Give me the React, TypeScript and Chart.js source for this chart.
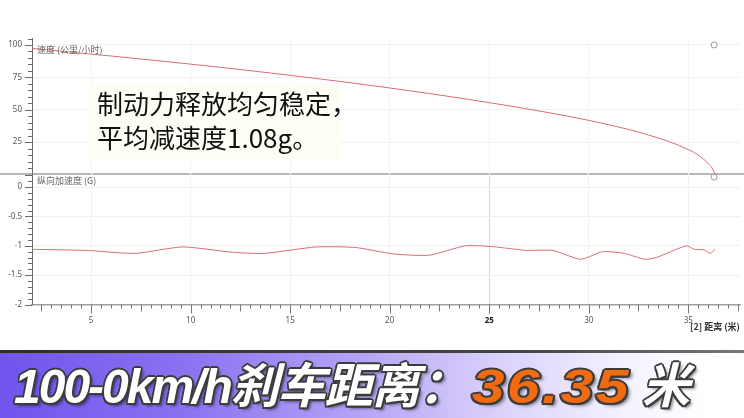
import React, { useEffect, useRef } from "react";
import { Chart, registerables } from "chart.js";

Chart.register(...registerables);

// ---- data ----
const speedDist = [2.0, 4, 6, 8, 10, 12, 14, 16, 18, 20, 22, 24, 26, 28, 30, 32, 33, 34, 35, 35.5, 36, 36.2, 36.35];
const speedKmh = [97.4, 94.4, 91.5, 88.4, 85.2, 81.9, 78.4, 74.7, 70.9, 66.8, 62.5, 57.9, 53.0, 47.7, 41.8, 34.8, 30.5, 25.6, 19.3, 15.0, 8.6, 5.0, 0];

const accDist = [2.0, 4.8, 7.2, 9.6, 12.1, 13.7, 16.3, 18.3, 20.2, 22.0, 23.8, 25.0, 26.1, 26.9, 28.2, 29.6, 30.7, 31.8, 32.8, 33.4, 34.9, 35.3, 35.8, 36.1, 36.35];
const accG = [-1.06, -1.08, -1.13, -1.02, -1.11, -1.13, -1.02, -1.03, -1.14, -1.16, -1.0, -1.01, -1.05, -1.08, -1.08, -1.23, -1.1, -1.13, -1.23, -1.2, -1.0, -1.06, -1.07, -1.13, -1.06];

// cursor markers (hollow circles) at the end of the stop
const cursorDist = [36.3];
const cursorSpeed = [100];
const cursorAcc = [0.17];

const xLabelTicks = [5, 10, 15, 20, 25, 30, 35];
const speedTicks = [25, 50, 75, 100];
const accTicks = [0, -0.5, -1, -1.5, -2];

const X_MIN = 2.03;
const X_MAX = 37.6;

const LINE_COLOR = "#dc6c76";
const TICK_FONT = "'Noto Sans', 'DejaVu Sans', sans-serif";

const noPad = (s: any) => {
  s.paddingTop = 0;
  s.paddingBottom = 0;
  s.paddingLeft = 0;
  s.paddingRight = 0;
};

const axisTicks = {
  id: "axisTicks",
  afterDraw(chart: any, _args: any, opts: any) {
    const ctx = chart.ctx;
    const ys = chart.scales.y;
    const xs = chart.scales.x;
    ctx.save();
    ctx.strokeStyle = "#6a6a6a";
    ctx.lineWidth = 1;
    ctx.beginPath();
    for (let i = opts.yFrom; i <= opts.yTo; i++) {
      const v = i * opts.yStep;
      if (v < ys.min - 1e-9 || v > ys.max + 1e-9) continue;
      const py = Math.round(ys.getPixelForValue(v)) + 0.5;
      const major = i % opts.yMajorEvery === 0;
      ctx.moveTo(ys.right - (major ? 7 : 4), py);
      ctx.lineTo(ys.right, py);
    }
    ctx.stroke();
    if (opts.xTicks) {
      ctx.strokeStyle = "#777";
      ctx.beginPath();
      for (let i = 4; i <= 76; i++) {
        const v = i / 2;
        if (v < xs.min || v > xs.max) continue;
        const px = Math.round(xs.getPixelForValue(v)) + 0.5;
        const len = i % 10 === 0 ? 9 : i % 5 === 0 ? 7 : 4;
        ctx.moveTo(px, xs.top);
        ctx.lineTo(px, xs.top + len);
      }
      ctx.stroke();
    }
    ctx.restore();
  },
};

const markerStyle = {
  showLine: false,
  pointRadius: 3,
  pointBorderWidth: 1,
  pointBorderColor: "#9a9a9a",
  pointBackgroundColor: "#ffffff",
};

export default function App() {
  const topRef = useRef<HTMLCanvasElement>(null);
  const botRef = useRef<HTMLCanvasElement>(null);

  useEffect(() => {
    const top = new Chart(topRef.current!, {
      type: "line",
      data: {
        datasets: [
          {
            data: speedDist.map((x, i) => ({ x, y: speedKmh[i] })),
            borderColor: LINE_COLOR,
            borderWidth: 1,
            pointRadius: 0,
            tension: 0.3,
            cubicInterpolationMode: "monotone",
          },
          {
            data: cursorDist.map((x, i) => ({ x, y: cursorSpeed[i] })),
            ...markerStyle,
            clip: false as any,
          },
        ],
      },
      options: {
        animation: false,
        responsive: true,
        maintainAspectRatio: false,
        layout: { autoPadding: false, padding: { top: 38.5, bottom: 1.5, left: 0, right: 4 } },
        plugins: {
          legend: { display: false },
          tooltip: { enabled: false },
          axisTicks: { yFrom: 0, yTo: 21, yStep: 5, yMajorEvery: 5 },
        } as any,
        scales: {
          x: {
            type: "linear",
            min: X_MIN,
            max: X_MAX,
            afterBuildTicks: (s: any) => {
              s.ticks = xLabelTicks.map((v) => ({ value: v }));
            },
            afterFit: (s: any) => {
              s.height = 0;
              noPad(s);
            },
            grid: { drawTicks: false, color: "#f3f3f3" },
            border: { display: false },
            ticks: { display: false },
          },
          y: {
            min: 0,
            max: 105,
            afterBuildTicks: (s: any) => {
              s.ticks = speedTicks.map((v) => ({ value: v }));
            },
            afterFit: (s: any) => {
              s.width = 32;
              noPad(s);
            },
            grid: { drawTicks: false, color: "#f1f1f1" },
            border: { display: true, color: "#6a6a6a", width: 1 },
            ticks: {
              padding: 10,
              color: "#555",
              font: { family: TICK_FONT, size: 8 },
              callback: (v: any) => String(v),
            },
          },
        },
      },
      plugins: [axisTicks as any],
    });

    const bot = new Chart(botRef.current!, {
      type: "line",
      data: {
        datasets: [
          {
            data: accDist.map((x, i) => ({ x, y: accG[i] })),
            borderColor: LINE_COLOR,
            borderWidth: 1,
            pointRadius: 0,
            tension: 0.2,
          },
          {
            data: cursorDist.map((x, i) => ({ x, y: cursorAcc[i] })),
            ...markerStyle,
            clip: false as any,
          },
        ],
      },
      options: {
        animation: false,
        responsive: true,
        maintainAspectRatio: false,
        layout: { autoPadding: false, padding: { top: 5.3, bottom: 0, left: 0, right: 4 } },
        plugins: {
          legend: { display: false },
          tooltip: { enabled: false },
          axisTicks: { yFrom: -20, yTo: 2, yStep: 0.1, yMajorEvery: 5, xTicks: true },
        } as any,
        scales: {
          x: {
            type: "linear",
            min: X_MIN,
            max: X_MAX,
            afterBuildTicks: (s: any) => {
              s.ticks = xLabelTicks.map((v) => ({ value: v }));
            },
            afterFit: (s: any) => {
              s.height = 45.5;
              noPad(s);
            },
            grid: {
              drawTicks: false,
              color: (c: any) => (c.tick && c.tick.value === 25 ? "#d6d6d6" : "#f2f2f2"),
            },
            border: { display: true, color: "#a0a0a0", width: 1.5 },
            ticks: {
              padding: 11,
              maxRotation: 0,
              autoSkip: false,
              color: (c: any) => (c.tick && c.tick.value === 25 ? "#222" : "#555"),
              font: (c: any) => ({
                family: TICK_FONT,
                size: 8,
                weight: c.tick && c.tick.value === 25 ? "bold" : "normal",
              }),
              callback: (v: any) => String(v),
            },
          },
          y: {
            min: -2,
            max: 0.2,
            afterBuildTicks: (s: any) => {
              s.ticks = accTicks.map((v) => ({ value: v }));
            },
            afterFit: (s: any) => {
              s.width = 32;
              noPad(s);
            },
            grid: { drawTicks: false, color: "#f0f0f0" },
            border: { display: true, color: "#6a6a6a", width: 1 },
            ticks: {
              padding: 10,
              color: "#555",
              font: { family: TICK_FONT, size: 8 },
              callback: (v: any) => String(v),
            },
          },
        },
      },
      plugins: [axisTicks as any],
    });

    return () => {
      top.destroy();
      bot.destroy();
    };
  }, []);

  const outline =
    "-1.5px -1.5px 0 #3c3c3c, 1.5px -1.5px 0 #3c3c3c, -1.5px 1.5px 0 #3c3c3c, 1.5px 1.5px 0 #3c3c3c, 0 1.8px 0 #3c3c3c, 0 -1.8px 0 #3c3c3c, 1.8px 0 0 #3c3c3c, -1.8px 0 0 #3c3c3c, 3px 3px 3px rgba(0,0,0,0.45)";

  return (
    <div
      style={{
        position: "fixed",
        left: 0,
        top: 0,
        width: 744,
        height: 418,
        background: "#ffffff",
        overflow: "hidden",
      }}
    >
      <div
        style={{ position: "absolute", left: 0, top: 172.5, width: 744, height: 2, background: "#b8b8b8" }}
      />
      <div style={{ position: "absolute", left: 0, top: 0, width: 744, height: 176 }}>
        <canvas ref={topRef} />
      </div>
      <div style={{ position: "absolute", left: 0, top: 170, width: 744, height: 180 }}>
        <canvas ref={botRef} />
      </div>
      <div
        style={{
          position: "absolute",
          left: 37,
          top: 44,
          font: "9px 'Noto Sans CJK SC', sans-serif",
          lineHeight: "12px",
          color: "#666",
          whiteSpace: "nowrap",
        }}
      >
        速度 (公里/小时)
      </div>
      <div
        style={{
          position: "absolute",
          left: 37,
          top: 175,
          font: "9px 'Noto Sans CJK SC', sans-serif",
          lineHeight: "12px",
          color: "#666",
          whiteSpace: "nowrap",
        }}
      >
        纵向加速度 (G)
      </div>
      <div
        style={{
          position: "absolute",
          right: 4,
          top: 321,
          font: "bold 9px 'Noto Sans CJK SC', sans-serif",
          lineHeight: "12px",
          color: "#333",
          whiteSpace: "nowrap",
        }}
      >
        [2] 距离 (米)
      </div>
      <div
        style={{
          position: "absolute",
          left: 88,
          top: 84,
          width: 252,
          height: 76,
          background: "#fefef5",
          paddingTop: 2,
          paddingLeft: 9,
          boxSizing: "border-box",
          font: "26px 'Noto Sans CJK SC', sans-serif",
          lineHeight: "34px",
          color: "#111",
          whiteSpace: "nowrap",
        }}
      >
        <div>制动力释放均匀稳定，</div>
        <div>平均减速度1.08g。</div>
      </div>
      <div
        style={{
          position: "absolute",
          left: 0,
          top: 350,
          width: 744,
          height: 68,
          background:
            "linear-gradient(90deg, #7054ee 0%, #8b72f1 25%, #b4a3f6 48%, #dcd3fb 68%, #f6f3fe 85%, #ffffff 95%)",
        }}
      >
        <div
          style={{
            position: "absolute",
            left: 0,
            top: 0,
            width: 744,
            height: 3,
            background: "linear-gradient(90deg, #2e2e2e, #444 70%, #777)",
          }}
        />
        <div
          style={{
            position: "absolute",
            left: 14,
            top: 7,
            font: "italic bold 48px 'Liberation Sans', 'Noto Sans CJK SC', sans-serif",
            lineHeight: "50px",
            whiteSpace: "nowrap",
            color: "#ffffff",
            textShadow: outline,
          }}
        >
          <span style={{ letterSpacing: -2 }}>100-0km/h</span>
          <span style={{ fontFamily: "'Noto Sans CJK SC', sans-serif", letterSpacing: -1 }}>刹车距离：</span>
          <span
            style={{
              display: "inline-block",
              color: "#f26b0f",
              letterSpacing: 2,
              transform: "scaleX(1.22)",
              transformOrigin: "left center",
              marginLeft: 6,
              marginRight: 40,
            }}
          >
            36.35
          </span>
          <span style={{ fontFamily: "'Noto Sans CJK SC', sans-serif" }}>米</span>
        </div>
      </div>
    </div>
  );
}
